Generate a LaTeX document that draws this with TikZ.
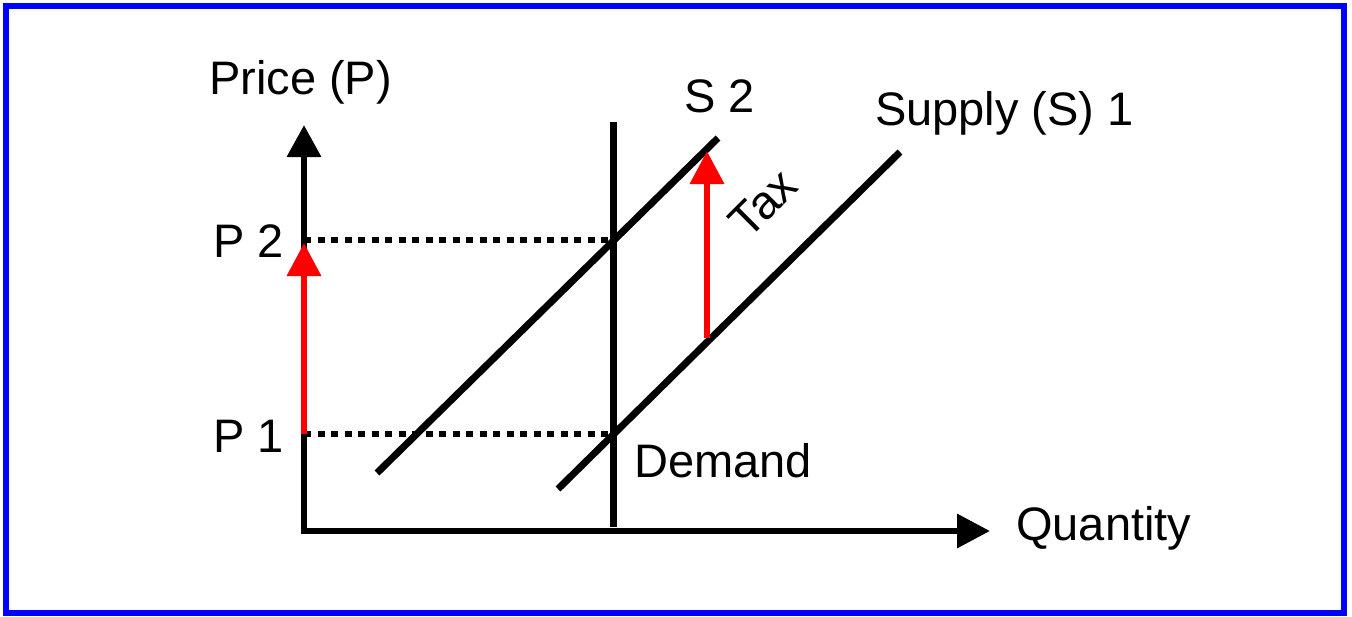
\documentclass[tikz,border=0pt]{standalone}
\usepackage{fontspec}
\setmainfont{Liberation Sans}
\usetikzlibrary{arrows.meta}
\begin{document}
\begin{tikzpicture}[x=1pt,y=-1pt,
  lbl/.style={inner sep=0pt,anchor=base west,font=\fontsize{47}{56}\selectfont},
  curve/.style={line width=7pt,black},
  axis/.style={line width=6.5pt,black,line join=miter,
    {Triangle[length=32pt,width=33pt]}-{Triangle[length=33pt,width=33pt]}},
  guide/.style={line width=6.5pt,black,dash pattern=on 7pt off 6.5pt},
  redarrow/.style={line width=6.5pt,red,-{Triangle[length=33pt,width=33pt]}},
  frame/.style={line width=6pt,blue}]
\useasboundingbox (0,0) rectangle (1352,616);
\draw[frame] (6,6) rectangle (1344,613);
% coordinates
\coordinate (O) at (304,531);
\coordinate (Ytip) at (304,125);
\coordinate (Xtip) at (990,531);
\coordinate (Dtop) at (613,122);
\coordinate (Dbot) at (613,527);
\coordinate (S2a) at (377,473);
\coordinate (S2b) at (718,138);
\coordinate (S1a) at (558,489);
\coordinate (S1b) at (900,152);
\coordinate (P2y) at (304,240);
\coordinate (E2) at (613,240);
\coordinate (P1y) at (304,434);
\coordinate (E1) at (613,434);
\coordinate (P2tip) at (304,243);
\coordinate (T1) at (707,338);
\coordinate (T2) at (707,151);
% guides
\draw[guide] (P2y) -- (E2);
\draw[guide] (P1y) -- (E1);
% axes
\draw[axis] (Ytip) -- (O) -- (Xtip);
% curves
\draw[curve] (Dtop) -- (Dbot);
\draw[curve] (S2a) -- (S2b);
\draw[curve] (S1a) -- (S1b);
% red arrows
\draw[redarrow] (P1y) -- (P2tip);
\draw[redarrow] (T1) -- (T2);
% labels
\node[lbl] (price) at (209,94) {Price (P)};
\node[lbl] (p2) at (213,257) {P 2};
\node[lbl] (p1) at (213,452) {P 1};
\node[lbl] (s2) at (684,112) {S 2};
\node[lbl] (s1) at (875,125) {Supply (S) 1};
\node[lbl] (dem) at (634,477) {Demand};
\node[lbl] (qty) at (1016,540) {Quantity};
\node[inner sep=0pt,rotate=45,font=\fontsize{47}{56}\selectfont] (tax) at (763,203) {Tax};
\end{tikzpicture}
\end{document}
